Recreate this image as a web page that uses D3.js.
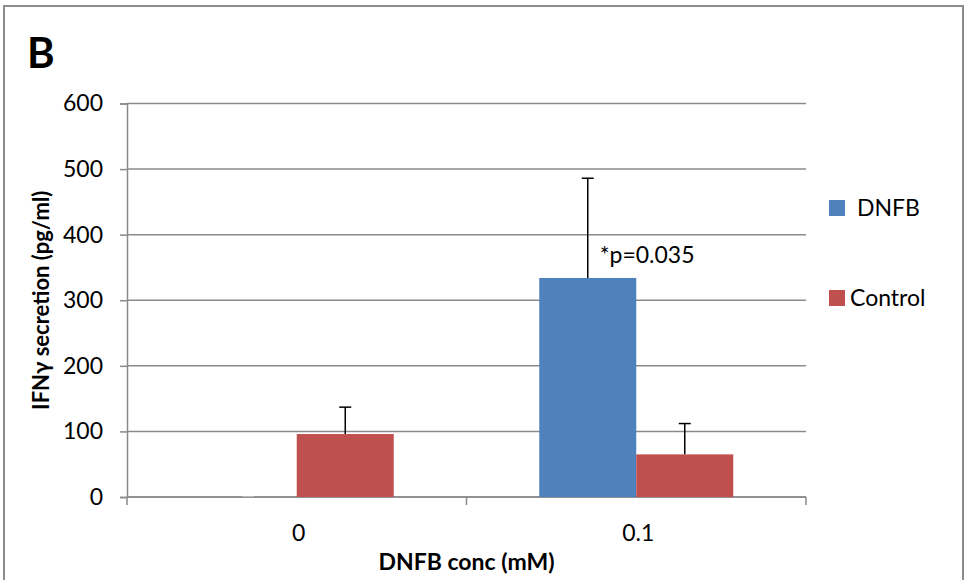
<!DOCTYPE html>
<html>
<head>
<meta charset="utf-8">
<script src="https://cdn.jsdelivr.net/npm/d3@7"></script>
<style>
  body { margin: 0; background: #fff; }
  svg text { font-family: Lato, "Open Sans", sans-serif; fill: #000; }
</style>
</head>
<body>
<svg id="chart" width="964" height="580"></svg>
<script>
// data
const categories = ['0', '0.1'];
const seriesNames = ['DNFB', 'Control'];
const dnfbValues = [0, 334];
const dnfbErrors = [0, 152];
const controlValues = [96, 65];
const controlErrors = [41, 47];
const yTicks = [0, 100, 200, 300, 400, 500, 600];
const seriesColors = ['#4F81BD', '#C0504D'];

const margin = { top: 103.5, left: 127, right: 158, bottom: 83 };
const width = 964 - margin.left - margin.right;
const height = 580 - margin.top - margin.bottom;

const root = d3.select('#chart');

// outer frame
root.append('rect')
  .attr('x', 4).attr('y', 6)
  .attr('width', 959).attr('height', 590)
  .attr('fill', 'none')
  .attr('stroke', '#8c8c8c')
  .attr('stroke-width', 2);

root.append('text')
  .attr('x', 27).attr('y', 68)
  .style('font-size', '42px')
  .style('font-weight', 'bold')
  .text('B');

const svg = root.append('g')
  .attr('transform', 'translate(' + margin.left + ',' + margin.top + ')');

const x0 = d3.scaleBand().domain(categories).range([0, width]).paddingInner(0).paddingOuter(0);
const x1 = d3.scaleBand().domain(seriesNames).range([72.75, x0.bandwidth() - 72.75]);
const y = d3.scaleLinear().domain([0, 600]).range([height, 0]);

// gridlines
svg.append('g')
  .selectAll('line')
  .data(yTicks)
  .enter()
  .append('line')
  .attr('x1', 0).attr('x2', width)
  .attr('y1', d => y(d)).attr('y2', d => y(d))
  .attr('stroke', '#8a8a8a')
  .attr('stroke-width', 1.5);

// y axis
const yAxis = svg.append('g')
  .call(d3.axisLeft(y).tickValues(yTicks).tickSize(7).tickPadding(17));
yAxis.select('.domain').attr('stroke', '#8a8a8a').attr('stroke-width', 1.5);
yAxis.selectAll('.tick line').attr('stroke', '#8a8a8a').attr('stroke-width', 1.5);
yAxis.selectAll('text').style('font-size', '23px').attr('fill', '#000');

// x axis (ticks on category boundaries)
const xAxisG = svg.append('g').attr('transform', 'translate(0,' + height + ')');
xAxisG.append('line')
  .attr('x1', 0).attr('x2', width)
  .attr('stroke', '#8a8a8a').attr('stroke-width', 1.5);
const boundaries = [0].concat(categories.map(c => x0(c) + x0.bandwidth()));
xAxisG.selectAll('.bnd')
  .data(boundaries)
  .enter()
  .append('line')
  .attr('x1', d => d).attr('x2', d => d)
  .attr('y1', 0).attr('y2', 8)
  .attr('stroke', '#8a8a8a').attr('stroke-width', 1.5);
xAxisG.selectAll('.lbl')
  .data(categories)
  .enter()
  .append('text')
  .attr('x', d => x0(d) + x0.bandwidth() / 2 + 2)
  .attr('y', 44)
  .attr('text-anchor', 'middle')
  .style('font-size', '23px')
  .text(d => d);

// bars
const rows = [];
categories.forEach((c, i) => {
  rows.push({ cat: c, series: 'DNFB', value: dnfbValues[i], err: dnfbErrors[i], color: seriesColors[0] });
  rows.push({ cat: c, series: 'Control', value: controlValues[i], err: controlErrors[i], color: seriesColors[1] });
});

svg.selectAll('.bar')
  .data(rows)
  .enter()
  .append('rect')
  .attr('x', d => x0(d.cat) + x1(d.series))
  .attr('y', d => y(d.value))
  .attr('width', x1.bandwidth())
  .attr('height', d => height - y(d.value))
  .attr('fill', d => d.color);

// error bars (upper only)
const errG = svg.append('g');
rows.forEach(d => {
  const cx = x0(d.cat) + x1(d.series) + x1.bandwidth() / 2;
  if (d.err > 0) {
    errG.append('line')
      .attr('x1', cx).attr('x2', cx)
      .attr('y1', y(d.value)).attr('y2', y(d.value + d.err))
      .attr('stroke', '#000').attr('stroke-width', 1.5);
    errG.append('line')
      .attr('x1', cx - 6).attr('x2', cx + 6)
      .attr('y1', y(d.value + d.err)).attr('y2', y(d.value + d.err))
      .attr('stroke', '#000').attr('stroke-width', 1.5);
  } else {
    errG.append('line')
      .attr('x1', cx - 6).attr('x2', cx + 6)
      .attr('y1', y(0) - 0.5).attr('y2', y(0) - 0.5)
      .attr('stroke', '#bbb').attr('stroke-width', 1);
  }
});

// p-value annotation
svg.append('text')
  .attr('x', x0('0.1') + x1('DNFB') + x1.bandwidth() / 2 + 12)
  .attr('y', y(400) + 28)
  .style('font-size', '23px')
  .text('*p=0.035');

// axis titles
root.append('text')
  .attr('transform', 'translate(49,' + (margin.top + height / 2) + ') rotate(-90)')
  .attr('text-anchor', 'middle')
  .style('font-size', '22px')
  .style('font-weight', 'bold')
  .text('IFNγ secretion (pg/ml)');

root.append('text')
  .attr('x', margin.left + width / 2)
  .attr('y', 570)
  .attr('text-anchor', 'middle')
  .style('font-size', '23px')
  .style('font-weight', 'bold')
  .text('DNFB conc (mM)');

// legend
const legend = root.append('g').attr('transform', 'translate(829,200)');
const legendItems = legend.selectAll('g')
  .data(seriesNames)
  .enter()
  .append('g')
  .attr('transform', (d, i) => 'translate(0,' + i * 90 + ')');
legendItems.append('rect')
  .attr('width', 16).attr('height', 16)
  .attr('fill', (d, i) => seriesColors[i]);
legendItems.append('text')
  .attr('x', (d, i) => i === 0 ? 28 : 21)
  .attr('y', 8)
  .attr('dy', '0.35em')
  .style('font-size', '23px')
  .text(d => d);
</script>
</body>
</html>
